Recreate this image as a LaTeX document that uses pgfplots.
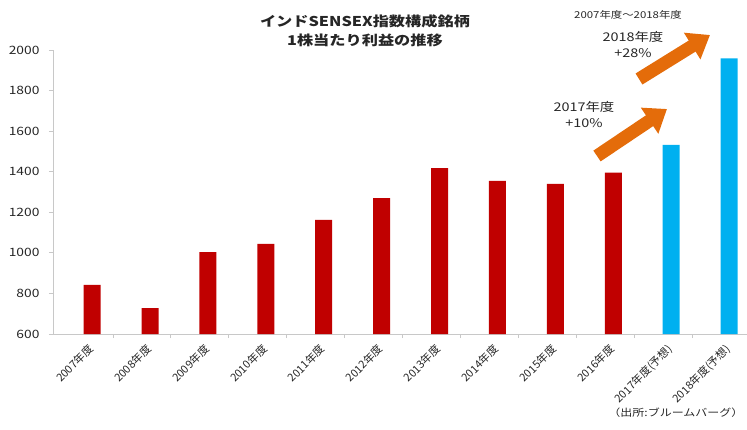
\documentclass[border=0pt]{standalone}
\usepackage{fontspec}
\setmainfont{Noto Sans CJK JP}[FakeStretch=1.2]
\newfontfamily\tickfont{Noto Sans CJK JP}
\usepackage{pgfplots}
\pgfplotsset{compat=1.18}
\usetikzlibrary{arrows.meta}

\definecolor{barred}{RGB}{192,0,0}
\definecolor{barblue}{RGB}{0,176,240}
\definecolor{arroworange}{RGB}{228,108,10}
\definecolor{axisgray}{RGB}{200,200,200}
\definecolor{txt}{RGB}{38,38,38}

\begin{document}
\begin{tikzpicture}
% page = 747 x 429 (1pt ~ 1px), axis box starts at (0,0)
\useasboundingbox (-53pt,-95pt) rectangle (694pt,334pt);

\begin{axis}[
    at={(0pt,0pt)}, anchor=south west,
    scale only axis,
    width=694pt, height=284pt,
    xmin=-0.536, xmax=11.45,
    ymin=600, ymax=2000,
    ytick={600,800,...,2000},
    % category boundaries carry the tick marks
    xtick={0.5,1.5,...,10.5},
    xticklabels={},
    % category names sit at the centres, without marks
    extra x ticks={0,...,11},
    extra x tick labels={2007年度,2008年度,2009年度,2010年度,2011年度,2012年度,2013年度,2014年度,2015年度,2016年度,2017年度(予想),2018年度(予想)},
    extra x tick style={major tick length=0pt},
    axis lines*=left,
    axis line style={axisgray, line width=0.8pt},
    tick style={axisgray, line width=0.8pt},
    tick align=outside,
    major tick length=4pt,
    /pgf/number format/assume math mode=true,
    /pgf/number format/1000 sep={},
    yticklabel style={font=\fontsize{11.5}{12}\selectfont, text=txt, xshift=-6pt},
    xticklabel style={font=\tickfont\fontsize{11}{12}\selectfont, text=txt, rotate=45, anchor=north east, yshift=-8pt, xshift=-3pt, inner sep=1pt},
    ybar, bar width=17pt, bar shift=0pt,
    clip=false,
]
\addplot[fill=barred, draw=none] coordinates {
    (0.14,842) (1.14,727) (2.14,1004) (3.14,1044) (4.14,1162)
    (5.14,1270) (6.14,1418) (7.14,1355) (8.14,1340) (9.14,1395)
};
\addplot[fill=barblue, draw=none] coordinates {
    (10.14,1532) (11.14,1959)
};
\end{axis}

% orange arrows
\draw[arroworange, line width=13pt, -{Triangle[length=21pt,width=30pt]}] (544pt,178pt) -- (614pt,225pt);
\draw[arroworange, line width=13pt, -{Triangle[length=21pt,width=30pt]}] (586pt,255pt) -- (657pt,299pt);

% title
\node[align=center, font=\bfseries\fontsize{13.5}{19}\selectfont, text=txt] at (312pt,303.5pt)
    {インドSENSEX指数構成銘柄\\1株当たり利益の推移};

% annotations
\node[font=\fontsize{9.5}{10}\selectfont, text=txt] at (575pt,319pt) {2007年度～2018年度};
\node[align=center, font=\fontsize{12}{16}\selectfont, text=txt] at (580pt,289pt) {2018年度\\+28\%};
\node[align=center, font=\fontsize{12}{16}\selectfont, text=txt] at (531pt,219pt) {2017年度\\+10\%};
\node[anchor=east, font=\fontsize{10}{12}\selectfont, text=txt] at (694pt,-79pt) {（出所:ブルームバーグ）};
\end{tikzpicture}
\end{document}
